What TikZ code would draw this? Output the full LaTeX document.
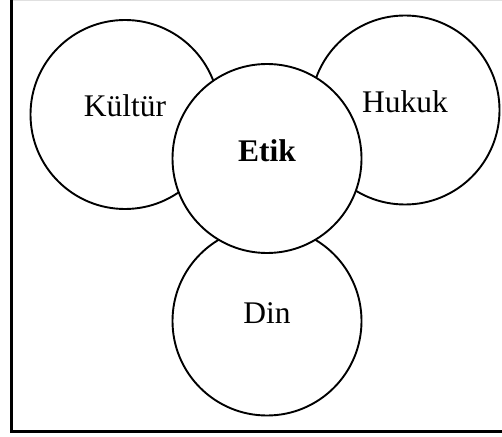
\documentclass[tikz,border=0pt]{standalone}
\usepackage{fontspec}
\setmainfont{Liberation Serif}
\begin{document}
\begin{tikzpicture}[x=1bp,y=-1bp,
  ring/.style={circle, draw=black, line width=1.9bp, fill=white, minimum size=189bp, inner sep=0pt},
  lbl/.style={anchor=base, inner sep=0pt, font=\fontsize{31.5bp}{37bp}\selectfont},
  frameline/.style={line width=3bp, black}]
\useasboundingbox (0,0) rectangle (502,437);
\fill[white] (0,0) rectangle (502,437);
\draw[line width=1.2bp, black!12] (12,0.6) -- (502,0.6);
\draw[frameline] (11,0) -- (11,431.5) -- (502,431.5);
\node[ring] (kultur) at (125,114.5) {};
\node[ring] (hukuk) at (405,110) {};
\node[ring] (din) at (267,321) {};
\node[ring] (etik) at (267,158.5) {};
\node[lbl] (tk) at (125,117) {Kültür};
\node[lbl] (th) at (405,113) {Hukuk};
\node[lbl, font=\fontsize{31.5bp}{37bp}\selectfont\bfseries] (te) at (267,162) {Etik};
\node[lbl] (td) at (267,323) {Din};
\end{tikzpicture}
\end{document}
